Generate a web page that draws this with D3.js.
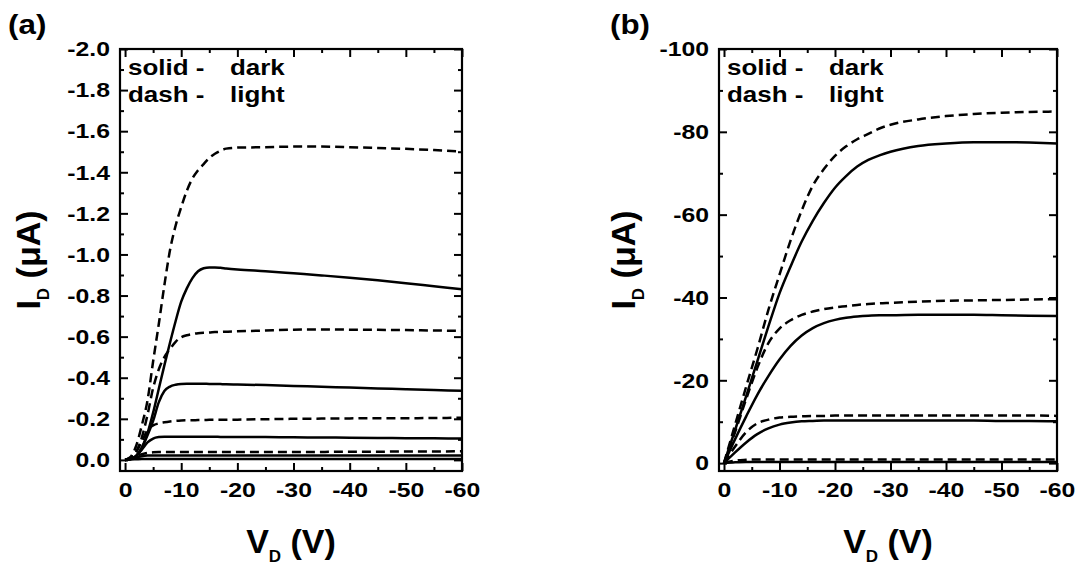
<!DOCTYPE html>
<html>
<head>
<meta charset="utf-8">
<script src="https://cdn.jsdelivr.net/npm/d3@7"></script>
<style>
  body { margin: 0; background: #fff; }
  svg text { font-family: "Liberation Sans", Arial, sans-serif; font-weight: bold; fill: #000; }
  .tick line { stroke: #000; stroke-width: 2; }
  .domain { display: none; }
</style>
</head>
<body>
<svg id="chart" width="1088" height="568"></svg>
<script>
// ---- panel (a) data: drain voltage (V) vs drain current (uA) ----
const vA = [0,-1,-2,-3,-4,-5,-6,-7,-8,-9,-10,-11,-12,-13,-14,-15,-16,-17,-18,-20,-25,-30,-35,-40,-45,-50,-55,-60];
const aSolid1 = [0,-0.005,-0.02,-0.06,-0.13,-0.23,-0.345,-0.46,-0.57,-0.675,-0.77,-0.835,-0.885,-0.918,-0.933,-0.937,-0.937,-0.935,-0.932,-0.927,-0.918,-0.908,-0.898,-0.887,-0.874,-0.86,-0.845,-0.83];
const aSolid2 = [0,-0.005,-0.02,-0.06,-0.12,-0.19,-0.28,-0.335,-0.357,-0.366,-0.37,-0.371,-0.371,-0.371,-0.371,-0.37,-0.37,-0.369,-0.368,-0.367,-0.364,-0.36,-0.356,-0.352,-0.348,-0.344,-0.34,-0.336];
const aSolid3 = [0,-0.003,-0.02,-0.05,-0.085,-0.104,-0.111,-0.113,-0.113,-0.113,-0.113,-0.113,-0.113,-0.113,-0.113,-0.113,-0.113,-0.112,-0.112,-0.112,-0.111,-0.11,-0.109,-0.108,-0.107,-0.106,-0.105,-0.104];
const aSolid4 = [0,-0.006,-0.013,-0.018,-0.021,-0.022,-0.022,-0.022,-0.022,-0.022,-0.022,-0.022,-0.022,-0.022,-0.022,-0.022,-0.022,-0.022,-0.022,-0.022,-0.022,-0.022,-0.022,-0.022,-0.022,-0.022,-0.022,-0.022];
const aSolid5 = [0,-0.002,-0.003,-0.004,-0.004,-0.004,-0.004,-0.004,-0.004,-0.004,-0.004,-0.004,-0.004,-0.004,-0.004,-0.004,-0.004,-0.004,-0.004,-0.004,-0.004,-0.004,-0.004,-0.004,-0.004,-0.004,-0.004,-0.004];
const aDash1 = [0,-0.015,-0.07,-0.17,-0.29,-0.48,-0.66,-0.85,-1.02,-1.14,-1.23,-1.31,-1.37,-1.41,-1.44,-1.47,-1.49,-1.505,-1.515,-1.52,-1.522,-1.525,-1.525,-1.522,-1.518,-1.514,-1.508,-1.5];
const aDash2 = [0,-0.01,-0.04,-0.11,-0.22,-0.35,-0.44,-0.5,-0.54,-0.575,-0.597,-0.607,-0.613,-0.617,-0.619,-0.62,-0.622,-0.623,-0.624,-0.626,-0.63,-0.634,-0.635,-0.634,-0.633,-0.632,-0.63,-0.628];
const aDash3 = [0,-0.01,-0.04,-0.09,-0.145,-0.168,-0.178,-0.183,-0.187,-0.19,-0.192,-0.193,-0.193,-0.194,-0.194,-0.195,-0.195,-0.195,-0.195,-0.196,-0.198,-0.2,-0.201,-0.202,-0.203,-0.203,-0.204,-0.205];
const aDash4 = [0,-0.01,-0.02,-0.028,-0.034,-0.037,-0.038,-0.038,-0.038,-0.038,-0.038,-0.038,-0.038,-0.038,-0.038,-0.038,-0.038,-0.038,-0.038,-0.038,-0.038,-0.039,-0.039,-0.04,-0.04,-0.041,-0.041,-0.042];

// ---- panel (b) data ----
const vB = [0,-2,-4,-6,-8,-10,-12,-14,-16,-18,-20,-22,-24,-26,-28,-30,-35,-40,-45,-50,-55,-60];
const bSolid1 = [0,-8,-16.2,-24.6,-33,-41,-47.5,-53.5,-58.5,-62.8,-66.5,-69.3,-71.6,-73.2,-74.3,-75.2,-76.6,-77.2,-77.5,-77.5,-77.4,-77.2];
const bSolid2 = [0,-5.8,-11.3,-16.5,-21,-25,-28.3,-30.8,-32.6,-33.8,-34.6,-35.1,-35.4,-35.6,-35.7,-35.7,-35.8,-35.8,-35.8,-35.7,-35.6,-35.5];
const bSolid3 = [0,-2.6,-5,-7,-8.4,-9.3,-9.8,-10.1,-10.2,-10.3,-10.3,-10.3,-10.3,-10.3,-10.3,-10.3,-10.3,-10.3,-10.3,-10.2,-10.2,-10.1];
const bSolid4 = [0,-0.2,-0.3,-0.3,-0.3,-0.3,-0.3,-0.3,-0.3,-0.3,-0.3,-0.3,-0.3,-0.3,-0.3,-0.3,-0.3,-0.3,-0.3,-0.3,-0.3,-0.3];
const bDash1 = [0,-9.3,-18.5,-27.5,-37,-45.5,-53.8,-61,-67,-71,-74.2,-76.5,-78.2,-79.5,-80.8,-81.7,-83,-83.8,-84.3,-84.6,-84.8,-84.9];
const bDash2 = [0,-7.5,-15.5,-23,-29,-32.5,-34.5,-35.8,-36.6,-37.2,-37.6,-37.9,-38.2,-38.4,-38.6,-38.7,-39,-39.2,-39.3,-39.4,-39.5,-39.6];
const bDash3 = [0,-4,-7.5,-9.6,-10.5,-11,-11.2,-11.3,-11.4,-11.4,-11.5,-11.5,-11.5,-11.5,-11.5,-11.5,-11.5,-11.5,-11.5,-11.5,-11.5,-11.4];
const bDash4 = [0,-0.6,-0.8,-0.9,-0.9,-0.9,-0.9,-0.9,-0.9,-0.9,-0.9,-0.9,-0.9,-0.9,-0.9,-0.9,-0.9,-0.9,-0.9,-0.9,-0.9,-0.9];

// ---- tick values ----
const xMajor = [0,-10,-20,-30,-40,-50,-60];
const xMinor = [-5,-15,-25,-35,-45,-55];
const yMajorA = [0,-0.2,-0.4,-0.6,-0.8,-1.0,-1.2,-1.4,-1.6,-1.8,-2.0];
const yMinorA = [-0.1,-0.3,-0.5,-0.7,-0.9,-1.1,-1.3,-1.5,-1.7,-1.9];
const yMajorB = [0,-20,-40,-60,-80,-100];
const yMinorB = [-10,-30,-50,-70,-90];

const svg = d3.select('#chart');
const STRETCH = 1.18; // tick / legend text is a bit wider than plain Arial

function drawPanel(cfg) {
    const g = svg.append('g');
    const left = cfg.left, right = cfg.right, top = 49, bottom = 471;

    const x = d3.scaleLinear().domain(cfg.xDomain).range([left, right]);
    const y = d3.scaleLinear().domain(cfg.yDomain).range([bottom, top]);

    // clip the curves to the frame
    g.append('clipPath').attr('id', 'clip-' + cfg.id)
        .append('rect')
        .attr('x', left).attr('y', top)
        .attr('width', right - left).attr('height', bottom - top);

    const line = d3.line()
        .x(d => x(d[0]))
        .y(d => y(d[1]))
        .curve(d3.curveMonotoneX);

    const curves = g.append('g').attr('clip-path', `url(#clip-${cfg.id})`);
    cfg.series.forEach(s => {
        curves.append('path')
            .datum(cfg.v.map((v, i) => [v, s.values[i]]))
            .attr('d', line)
            .attr('fill', 'none')
            .attr('stroke', '#000')
            .attr('stroke-width', 2.5)
            .attr('stroke-dasharray', s.dashed ? '9,5' : null);
    });

    // helper: drop d3's default axis font settings so the css font applies
    const clean = sel => sel.attr('font-family', null).attr('font-size', null);

    // bottom axis, ticks pointing inward
    const xAxis = g.append('g')
        .attr('transform', `translate(0,${bottom})`)
        .call(d3.axisBottom(x).tickValues(xMajor).tickSize(-8).tickPadding(11)
            .tickFormat(d => String(d)))
        .call(clean);
    xAxis.selectAll('text')
        .attr('transform', `scale(${STRETCH},1)`)
        .style('font-size', '21px');
    g.append('g')
        .attr('transform', `translate(0,${bottom})`)
        .call(d3.axisBottom(x).tickValues(xMinor).tickSize(-4).tickFormat(''));

    // top axis ticks
    g.append('g').attr('transform', `translate(0,${top})`)
        .call(d3.axisTop(x).tickValues(xMajor).tickSize(-8).tickFormat(''));
    g.append('g').attr('transform', `translate(0,${top})`)
        .call(d3.axisTop(x).tickValues(xMinor).tickSize(-4).tickFormat(''));

    // left axis
    const yAxis = g.append('g')
        .attr('transform', `translate(${left},0)`)
        .call(d3.axisLeft(y).tickValues(cfg.yMajor).tickSize(-8).tickPadding(8.5)
            .tickFormat(cfg.yFormat))
        .call(clean);
    yAxis.selectAll('text')
        .attr('transform', `scale(${STRETCH},1)`)
        .style('font-size', '21px');
    g.append('g').attr('transform', `translate(${left},0)`)
        .call(d3.axisLeft(y).tickValues(cfg.yMinor).tickSize(-4).tickFormat(''));

    // right axis ticks
    g.append('g').attr('transform', `translate(${right},0)`)
        .call(d3.axisRight(y).tickValues(cfg.yMajor).tickSize(-8).tickFormat(''));
    g.append('g').attr('transform', `translate(${right},0)`)
        .call(d3.axisRight(y).tickValues(cfg.yMinor).tickSize(-4).tickFormat(''));

    // frame
    g.append('rect')
        .attr('x', left).attr('y', top)
        .attr('width', right - left).attr('height', bottom - top)
        .attr('fill', 'none').attr('stroke', '#000').attr('stroke-width', 2.2);

    // legend text
    const legend = [['solid -', 'dark', 75], ['dash -', 'light', 102]];
    legend.forEach(l => {
        [[l[0], 8], [l[1], 110]].forEach(t => {
            g.append('text')
                .attr('transform', `translate(${left + t[1]},${l[2]}) scale(${STRETCH},1)`)
                .style('font-size', '22px')
                .text(t[0]);
        });
    });

    // panel label
    g.append('text')
        .attr('transform', `translate(${cfg.labelX},34) scale(1.12,1)`)
        .style('font-size', '28px')
        .text(cfg.label);

    // x axis title: V_D (V)
    const xt = g.append('text')
        .attr('x', (left + right) / 2).attr('y', 553)
        .attr('text-anchor', 'middle')
        .style('font-size', '34px');
    xt.append('tspan').text('V');
    xt.append('tspan').attr('dy', 9).style('font-size', '17px').text('D');
    xt.append('tspan').attr('dy', -9).text(' (V)');

    // y axis title: I_D (uA)
    const yt = g.append('text')
        .attr('transform', `translate(${cfg.yTitleX},${(top + bottom) / 2}) rotate(-90)`)
        .attr('text-anchor', 'middle')
        .style('font-size', '34px');
    yt.append('tspan').text('I');
    yt.append('tspan').attr('dy', 9).style('font-size', '17px').text('D');
    yt.append('tspan').attr('dy', -9).text(' (\u03bcA)');
}

drawPanel({
    id: 'a', label: '(a)', labelX: 8, yTitleX: 40,
    left: 120, right: 462,
    xDomain: [0.9, -60], yDomain: [0.054, -2.0],
    yMajor: yMajorA, yMinor: yMinorA,
    yFormat: d => d.toFixed(1),
    v: vA,
    series: [
        { values: aSolid1 }, { values: aSolid2 }, { values: aSolid3 },
        { values: aSolid4 }, { values: aSolid5 },
        { values: aDash1, dashed: true }, { values: aDash2, dashed: true },
        { values: aDash3, dashed: true }, { values: aDash4, dashed: true }
    ]
});

drawPanel({
    id: 'b', label: '(b)', labelX: 610, yTitleX: 635,
    left: 719, right: 1057,
    xDomain: [0.9, -60], yDomain: [1.9, -100],
    yMajor: yMajorB, yMinor: yMinorB,
    yFormat: d => String(d),
    v: vB,
    series: [
        { values: bSolid1 }, { values: bSolid2 }, { values: bSolid3 }, { values: bSolid4 },
        { values: bDash1, dashed: true }, { values: bDash2, dashed: true },
        { values: bDash3, dashed: true }, { values: bDash4, dashed: true }
    ]
});
</script>
</body>
</html>
